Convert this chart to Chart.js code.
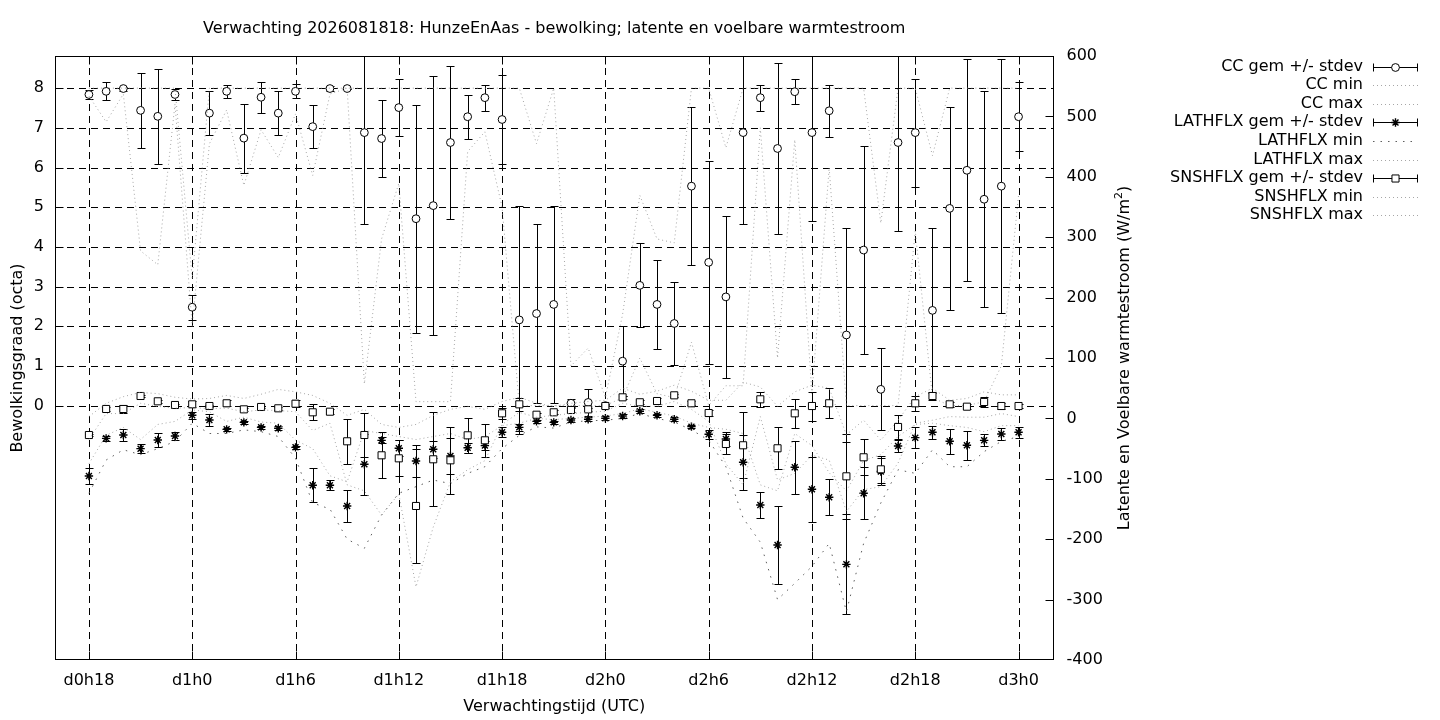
<!DOCTYPE html>
<html>
<head>
<meta charset="utf-8">
<script src="https://cdn.jsdelivr.net/npm/chart.js@4.4.1/dist/chart.umd.min.js"></script>
<style>
html,body{margin:0;padding:0;background:#fff;}
#wrap{width:1440px;height:720px;position:relative;overflow:hidden;}
canvas{display:block;}
</style>
</head>
<body>
<div id="wrap"><canvas id="c" width="1440" height="720"></canvas></div>
<script>
// ---------- data (forecast hour since d0h0) ----------
const hours = [18,19,20,21,22,23,24,25,26,27,28,29,30,31,32,33,34,35,36,37,38,39,40,41,42,43,44,45,46,47,48,49,50,51,52,53,54,55,56,57,58,59,60,61,62,63,64,65,66,67,68,69,70,71,72];

const xTickValues = [18,24,30,36,42,48,54,60,66,72];
const xTickLabels = ['d0h18','d1h0','d1h6','d1h12','d1h18','d2h0','d2h6','d2h12','d2h18','d3h0'];
const yTickValues = [0,1,2,3,4,5,6,7,8];
const yTickLabels = ['0','1','2','3','4','5','6','7','8'];
const y2TickValues = [-400,-300,-200,-100,0,100,200,300,400,500,600];
const y2TickLabels = ['-400','-300','-200','-100','0','100','200','300','400','500','600'];

// cloud cover (octa)
const ccMean = [7.84,7.92,7.99,7.44,7.29,7.84,2.48,7.37,7.92,6.74,7.77,7.37,7.92,
                7.03,7.99,7.99,6.88,6.73,7.51,4.71,5.04,6.63,7.28,7.76,7.21,
                2.16,2.32,2.55,0.06,0.08,0.00,1.12,3.03,2.55,2.07,5.53,3.61,
                2.74,6.88,7.76,6.48,7.91,6.88,7.43,1.78,3.92,0.41,6.63,6.88,
                2.40,4.97,5.93,5.20,5.53,7.28];
const ccSd   = [0.12,0.23,0.05,0.95,1.20,0.14,0.32,0.55,0.16,0.87,0.39,0.55,0.18,
                0.55,0.06,0.00,2.31,0.97,0.72,2.87,3.27,1.93,0.55,0.33,1.12,
                2.88,2.25,2.49,0.10,0.33,0.00,0.88,1.06,1.12,1.05,1.99,2.55,
                2.05,2.31,0.33,2.16,0.32,2.24,0.65,2.70,2.63,1.03,2.24,1.36,
                2.08,2.55,2.80,2.72,3.20,0.87];
const ccMin  = [7.8,7.15,7.85,3.9,3.55,7.6,2.0,6.6,7.45,5.55,6.95,6.25,7.35,
                5.8,7.85,8.0,0.55,4.2,5.6,0.1,0.1,0.1,6.4,6.9,5.0,
                0,0,0,0,0,0,0.2,1.2,0.3,0.2,1.6,0,
                0.5,0.5,7.0,1.2,6.7,0.3,6.0,0,0,0,0,4.4,
                0.2,0,0,0.1,1.0,5.3];
const ccMax  = [8,8,8,8,8,8,3.2,8,8,8,8,8,8,
                8,8,8,8,8,8,8,8,8,8,8,8,
                8,6.6,8,1.0,1.45,0.2,2.3,5.3,4.2,4.1,8,8,
                6.5,8,8,8,8,8,8,8,8,4.6,8,8,
                6.3,8,8,8,8,8];

// latent heat flux (W/m2)
const latMean = [-95.4,-33,-27.5,-50.1,-35.8,-29.1,5.1,-2.6,-18.1,-6.5,-14.8,-16.4,-47.9,
                 -110.8,-110.8,-145,-76,-36.3,-49.5,-70.5,-51.2,-62.3,-48.5,-45,-23,
                 -14.8,-4.9,-6.5,-2.6,-1.5,0.2,4,11.8,5.1,-1.5,-13.7,-26.3,
                 -34.1,-72.7,-143.4,-209.6,-81,-117.4,-130.6,-241.6,-124,-88,-45.7,-31.9,
                 -23,-37.9,-44.5,-36.3,-25.8,-23];
const latSd   = [14,4,10,7,12,6,6,10,3,3,3,3,3,
                 28,8,27,51,5,13,27,14,30,8,8,8,
                 6,3,3,3,3,3,3,3,3,3,3,7,
                 12,46,22,64,44,54,30,83,43,22,10,17,
                 11,21,24,10,10,9];
const latMin  = [-124,-69,-52,-60,-50,-38,-8,-25,-25,-19,-22,-30,-66,
                 -140,-150,-200,-215,-160,-124,-113,-102,-108,-91,-80,-50,
                 -28,-14,-16,-6,-4,-3,0,8,0,-6,-19,-36,
                 -80,-165,-205,-300,-273,-245,-207,-320,-207,-140,-85,-91,
                 -52,-80,-80,-55,-38,-30];
const latMax  = [-75,-28,-15,-35,-10,-5,14,11,-5,2,-6,-8,-36,
                 -50,-95,-105,-20,-25,-30,-35,-30,-25,-35,-30,-12,
                 -8,0,-2,0,2,4,8,16,10,4,-8,-15,
                 -18,-25,-110,-120,-25,-45,-90,-120,-70,-60,-30,-10,
                 -8,-12,-15,-22,-12,-12];

// sensible heat flux (W/m2)
const snsMean = [-27.5,15.6,15.6,37.1,28.3,22.2,23.3,20.5,25.0,15,18.9,16.7,24.4,
                 10.1,11.1,-37.9,-27.5,-61.1,-66.1,-145,-67.7,-69.4,-28,-36.3,8.4,
                 23.3,6.1,10.1,13.9,15,20.5,34.9,26.7,28.8,38.2,25,8.9,
                 -42.4,-44.5,31.6,-49.5,8.4,20.5,25,-95.9,-64.4,-84.3,-14.2,25,
                 37.1,23.3,19.4,27.2,20.5,20.5];
const snsSd   = [2,3,6,2,2,2,5,2,5,2,2,2,6,
                 13.5,4,37,37,38,30,94,78,55,29,27,9,
                 11,3,3,3,3,3,3,3,5,3,3,5,
                 17,55,12,35,24,24,25,70,30,22,20,12,
                 6,4,4,8,5,3];
const snsMin  = [-35,8,8,25,20,17,18,16,17,11,14,13,11,
                 -20,-8,-110,-120,-160,-125,-279,-180,-105,-85,-70,-10,
                 10,2,5,8,10,12,25,20,20,28,15,-5,
                 -75,-110,3,-102,-91,-61,-69,-154,-118,-113,-74,-8,
                 -3,3,2,2,8,3];
const snsMax  = [3,25,36,43,41,35,32,33,38,33,40,48,44,
                 38,25,5,15,-10,-15,-10,5,15,20,15,28,
                 35,25,20,25,28,30,50,40,45,55,45,30,
                 30,60,52,20,44,55,50,-27,-3,-36,-3,36,
                 50,30,33,44,39,39];

const titleText = 'Verwachting 2026081818: HunzeEnAas - bewolking; latente en voelbare warmtestroom';
const xTitle = 'Verwachtingstijd (UTC)';
const yTitle = 'Bewolkingsgraad (octa)';
const y2TitleMain = 'Latente en Voelbare warmtestroom (W/m';
const y2TitleSup = '2';
const y2TitleEnd = ')';

// ---------- styles ----------
const FONT = '"DejaVu Sans", "Liberation Sans", sans-serif';
const LIGHT = 'rgba(150,150,150,0.85)';
const DARK = 'rgba(85,85,85,0.95)';
const LIGHT_DASH = [1, 3];
const DARK_DASH = [1.5, 6];

const pointsOf = ys => hours.map((h, i) => ({x: h, y: ys[i]}));

function meanSet(label, ys, sd, axis, style, radius, bw, order) {
  return {label, data: pointsOf(ys), errors: sd, yAxisID: axis, showLine: false,
    pointStyle: style, pointRadius: radius, borderColor: '#000', backgroundColor: '#fff',
    pointBorderWidth: bw, borderWidth: bw, order, kind: 'gem'};
}
function lineSet(label, ys, axis, color, dash, order) {
  return {label, data: pointsOf(ys), yAxisID: axis, borderColor: color, borderWidth: 1,
    borderDash: dash, pointRadius: 0, fill: false, tension: 0, order, kind: 'line'};
}

const datasets = [
  meanSet('CC gem +/- stdev', ccMean, ccSd, 'y', 'circle', 3.9, 1, 90),
  lineSet('CC min', ccMin, 'y', LIGHT, LIGHT_DASH, 89),
  lineSet('CC max', ccMax, 'y', LIGHT, LIGHT_DASH, 88),
  meanSet('LATHFLX gem +/- stdev', latMean, latSd, 'y2', 'star', 4.2, 1.4, 87),
  lineSet('LATHFLX min', latMin, 'y2', DARK, DARK_DASH, 86),
  lineSet('LATHFLX max', latMax, 'y2', LIGHT, LIGHT_DASH, 85),
  meanSet('SNSHFLX gem +/- stdev', snsMean, snsSd, 'y2', 'rect', 5, 1, 84),
  lineSet('SNSHFLX min', snsMin, 'y2', LIGHT, LIGHT_DASH, 83),
  lineSet('SNSHFLX max', snsMax, 'y2', LIGHT, LIGHT_DASH, 82)
];

function clipArea(ctx, a) {
  ctx.beginPath();
  ctx.rect(a.left, a.top, a.right - a.left, a.bottom - a.top);
  ctx.clip();
}

const decor = {
  id: 'decor',
  beforeDatasetsDraw(chart) {
    const {ctx, chartArea: a, scales} = chart;
    ctx.save();
    ctx.strokeStyle = '#000';
    ctx.lineWidth = 1;
    ctx.setLineDash([7, 5]);
    xTickValues.forEach(v => {
      const px = Math.round(scales.x.getPixelForValue(v)) + 0.5;
      ctx.beginPath(); ctx.moveTo(px, a.top); ctx.lineTo(px, a.bottom); ctx.stroke();
    });
    yTickValues.forEach(v => {
      const py = Math.round(scales.y.getPixelForValue(v)) + 0.5;
      ctx.beginPath(); ctx.moveTo(a.left, py); ctx.lineTo(a.right, py); ctx.stroke();
    });
    ctx.restore();
  },
  beforeDatasetDraw(chart, args) {
    const ds = chart.data.datasets[args.index];
    if (!ds.errors) return;
    const {ctx, chartArea: a} = chart;
    const xs = chart.scales.x, ys = chart.scales[ds.yAxisID];
    ctx.save();
    clipArea(ctx, a);
    ctx.strokeStyle = '#000';
    ctx.lineWidth = 1;
    ctx.setLineDash([]);
    ds.data.forEach((p, i) => {
      const sd = ds.errors[i];
      const x = Math.round(xs.getPixelForValue(p.x)) + 0.5;
      const yt = Math.round(ys.getPixelForValue(p.y + sd)) + 0.5;
      const yb = Math.round(ys.getPixelForValue(p.y - sd)) + 0.5;
      ctx.beginPath();
      ctx.moveTo(x, yt); ctx.lineTo(x, yb);
      ctx.moveTo(x - 4, yt); ctx.lineTo(x + 4, yt);
      ctx.moveTo(x - 4, yb); ctx.lineTo(x + 4, yb);
      ctx.stroke();
    });
    ctx.restore();
  },
  afterDraw(chart) {
    const {ctx, chartArea: a, scales} = chart;
    const L = Math.round(a.left) + 0.5, R = Math.round(a.right) - 0.5;
    const T = Math.round(a.top) + 0.5, B = Math.round(a.bottom) - 0.5;
    ctx.save();
    ctx.setLineDash([]);
    ctx.strokeStyle = '#000';
    ctx.lineWidth = 1;
    // frame
    ctx.strokeRect(L, T, R - L, B - T);
    // inward tick marks
    const TL = 8;
    ctx.beginPath();
    xTickValues.forEach(v => {
      const px = Math.round(scales.x.getPixelForValue(v)) + 0.5;
      ctx.moveTo(px, B); ctx.lineTo(px, B - TL);
      ctx.moveTo(px, T); ctx.lineTo(px, T + TL);
    });
    yTickValues.forEach(v => {
      const py = Math.round(scales.y.getPixelForValue(v)) + 0.5;
      ctx.moveTo(L, py); ctx.lineTo(L + TL, py);
    });
    y2TickValues.forEach(v => {
      const py = Math.round(scales.y2.getPixelForValue(v)) + 0.5;
      if (py > T + 1 && py < B - 1) { ctx.moveTo(R, py); ctx.lineTo(R - TL, py); }
    });
    ctx.stroke();

    // tick labels
    ctx.fillStyle = '#000';
    ctx.font = '16px ' + FONT;
    ctx.textBaseline = 'middle';
    ctx.textAlign = 'center';
    xTickValues.forEach((v, i) => ctx.fillText(xTickLabels[i], scales.x.getPixelForValue(v), a.bottom + 21));
    ctx.textAlign = 'right';
    yTickValues.forEach((v, i) => ctx.fillText(yTickLabels[i], a.left - 11, scales.y.getPixelForValue(v)));
    ctx.textAlign = 'left';
    y2TickValues.forEach((v, i) => ctx.fillText(y2TickLabels[i], a.right + 13, scales.y2.getPixelForValue(v)));

    // titles
    const cx = (a.left + a.right) / 2, cy = (a.top + a.bottom) / 2;
    ctx.textAlign = 'center';
    ctx.fillText(titleText, cx, 29);
    ctx.fillText(xTitle, cx, 707);
    ctx.save();
    ctx.translate(18, cy); ctx.rotate(-Math.PI / 2);
    ctx.fillText(yTitle, 0, 0);
    ctx.restore();
    ctx.save();
    ctx.translate(1125, cy); ctx.rotate(-Math.PI / 2);
    ctx.textAlign = 'left';
    ctx.font = '16px ' + FONT;
    const w1 = ctx.measureText(y2TitleMain).width;
    const w3 = ctx.measureText(y2TitleEnd).width;
    ctx.font = '11px ' + FONT;
    const w2 = ctx.measureText(y2TitleSup).width;
    let s = -(w1 + w2 + w3) / 2;
    ctx.font = '16px ' + FONT;
    ctx.fillText(y2TitleMain, s, 0);
    ctx.font = '11px ' + FONT;
    ctx.fillText(y2TitleSup, s + w1, -6);
    ctx.font = '16px ' + FONT;
    ctx.fillText(y2TitleEnd, s + w1 + w2, 0);
    ctx.restore();

    // legend
    const textRight = 1363, s0 = 1373, s1 = 1418, sm = (s0 + s1) / 2;
    chart.data.datasets.forEach((ds, i) => {
      const yy = 66.5 + i * 18.6;
      ctx.fillStyle = '#000';
      ctx.font = '16px ' + FONT;
      ctx.textAlign = 'right';
      ctx.textBaseline = 'middle';
      ctx.fillText(ds.label, textRight, yy);
      const ly = Math.round(yy) + 0.5;
      if (ds.kind === 'gem') {
        ctx.setLineDash([]);
        ctx.strokeStyle = '#000'; ctx.lineWidth = 1;
        ctx.beginPath();
        ctx.moveTo(s0, ly); ctx.lineTo(s1, ly);
        ctx.moveTo(s0 + 0.5, ly - 4); ctx.lineTo(s0 + 0.5, ly + 4);
        ctx.moveTo(s1 - 0.5, ly - 4); ctx.lineTo(s1 - 0.5, ly + 4);
        ctx.stroke();
        ctx.fillStyle = '#fff'; ctx.strokeStyle = '#000'; ctx.lineWidth = ds.pointBorderWidth;
        Chart.helpers.drawPoint(ctx, {pointStyle: ds.pointStyle, radius: ds.pointRadius, rotation: 0, borderWidth: ds.pointBorderWidth}, sm, ly);
      } else {
        ctx.setLineDash(ds.borderDash);
        ctx.strokeStyle = ds.borderColor; ctx.lineWidth = 1;
        ctx.beginPath(); ctx.moveTo(s0, ly); ctx.lineTo(s1, ly); ctx.stroke();
        ctx.setLineDash([]);
      }
    });
    ctx.restore();
  }
};

new Chart(document.getElementById('c'), {
  type: 'line',
  data: {datasets},
  options: {
    responsive: false,
    animation: false,
    devicePixelRatio: 1,
    events: [],
    layout: {padding: {top: 56, left: 0, right: 0, bottom: 0}},
    plugins: {legend: {display: false}, tooltip: {enabled: false}, title: {display: false}},
    scales: {
      x: {type: 'linear', position: 'bottom', min: 16.03, max: 74.03,
          grid: {display: false}, border: {display: false}, ticks: {display: false},
          afterFit(s) { s.height = 60; }},
      y: {type: 'linear', position: 'left', min: -6.41, max: 8.81,
          grid: {display: false}, border: {display: false}, ticks: {display: false},
          afterFit(s) { s.width = 55; }},
      y2: {type: 'linear', position: 'right', min: -400, max: 600,
          grid: {display: false}, border: {display: false}, ticks: {display: false},
          afterFit(s) { s.width = 386.5; }}
    }
  },
  plugins: [decor]
});
</script>
</body>
</html>
